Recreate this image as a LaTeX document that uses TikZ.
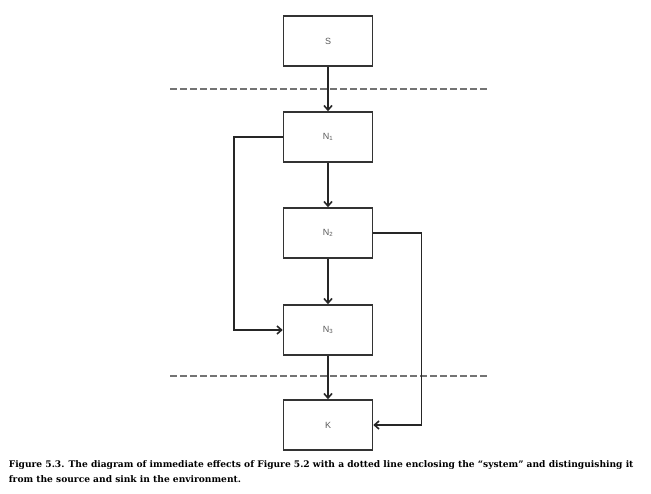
\documentclass[tikz,border=0pt]{standalone}
\usepackage{fontspec}
\setmainfont{DejaVu Serif}
\newfontfamily\boxfont{Liberation Sans}
\usetikzlibrary{arrows.meta}

\begin{document}
\begin{tikzpicture}[x=1pt,y=-1pt,line width=1.6pt,
	box/.style={draw=black!80,minimum width=89pt,minimum height=50pt,inner sep=0pt,
		font=\boxfont\fontsize{9}{9}\selectfont,text=black!65},
	link/.style={draw=black!85,-{Straight Barb[length=4.5pt,width=8pt]}},
	border/.style={draw=black!55,line width=1.2pt,dash pattern=on 6.5pt off 3.5pt}]
\useasboundingbox (0,0) rectangle (651,493);

\node[box] (s) at (328,41) {S};
\node[box] (n1) at (328,137) {N\textsubscript{1}};
\node[box] (n2) at (328,233) {N\textsubscript{2}};
\node[box] (n3) at (328,330) {N\textsubscript{3}};
\node[box] (k) at (328,425) {K};

\coordinate (top west) at (170,89);
\coordinate (top east) at (490,89);
\coordinate (bot west) at (170,376);
\coordinate (bot east) at (490,376);
\draw[border] (top west)--(top east);
\draw[border] (bot west)--(bot east);

\draw[link] (s)--(n1);
\draw[link] (n1)--(n2);
\draw[link] (n2)--(n3);
\draw[link] (n3)--(k);
\draw[link] (n1.west)--++(-49,0) |- (n3.west);
\draw[link] (n2.east)--++(48,0) |- (k.east);

% caption, base anchor sits on the last line
\node[anchor=base west,align=left,inner sep=0pt,font=\bfseries\fontsize{9.1}{15}\selectfont] (caption) at (8,482)
	{Figure 5.3. The diagram of immediate effects of Figure 5.2 with a dotted line enclosing the “system” and distinguishing it\\
	from the source and sink in the environment.};
\end{tikzpicture}
\end{document}
